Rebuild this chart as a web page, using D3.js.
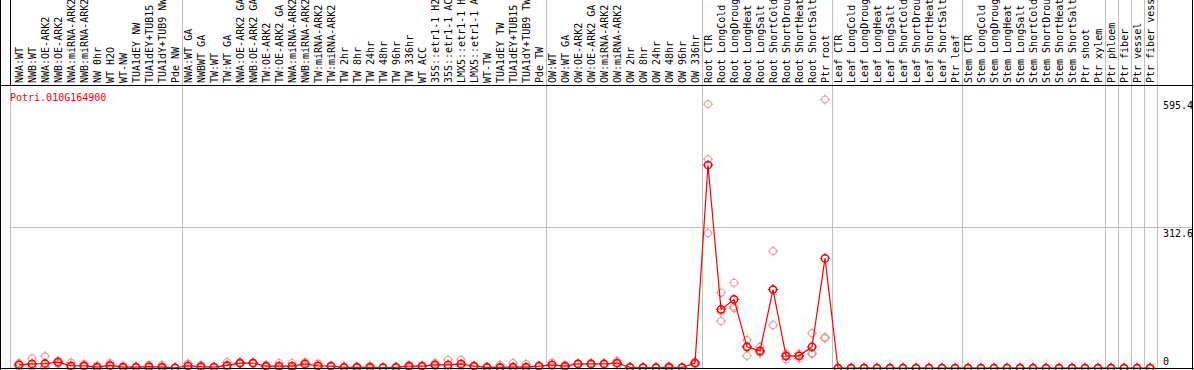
<!DOCTYPE html>
<html><head><meta charset="utf-8">
<script src="https://cdn.jsdelivr.net/npm/d3@7"></script>
<style>
html,body{margin:0;padding:0;background:#fff;}
svg{display:block;}
text{font-family:"DejaVu Sans Mono",monospace;font-size:10px;}
</style></head>
<body>
<svg id="chart" width="1194" height="370"></svg>
<script>
const geneName = "Potri.010G164900";

const categories = [
 "NWA:WT","NWB:WT","NWA:OE-ARK2","NWB:OE-ARK2","NWA:miRNA-ARK2","NWB:miRNA-ARK2","NW 0hr","WT H2O","WT-NW","TUA1dEY NW","TUA1dEY+TUB15 NW","TUA1dY+TUB9 NW","Pde NW",
 "NWA:WT GA","NWBWT GA","TW:WT","TW:WT GA","NWA:OE-ARK2 GA","NWB:OE-ARK2 GA","TW:OE-ARK2","TW:OE-ARK2 GA","NWA:miRNA-ARK2","NWB:miRNA-ARK2","TW:miRNA-ARK2","TW:miRNA-ARK2","TW 2hr","TW 8hr","TW 24hr","TW 48hr","TW 96hr","TW 336hr","WT ACC","35S::etr1-1 H2O","35S::etr1-1 ACC","LMX5::etr1-1 H2O","LMX5::etr1-1 ACC","WT-TW","TUA1dEY TW","TUA1dEY+TUB15 TW","TUA1dY+TUB9 TW","Pde TW",
 "OW:WT","OW:WT GA","OW:OE-ARK2","OW:OE-ARK2 GA","OW:miRNA-ARK2","OW:miRNA-ARK2","OW 2hr","OW 8hr","OW 24hr","OW 48hr","OW 96hr","OW 336hr",
 "Root CTR","Root LongCold","Root LongDrought","Root LongHeat","Root LongSalt","Root ShortCold","Root ShortDrought","Root ShortHeat","Root ShortSalt","Ptr root",
 "Leaf CTR","Leaf LongCold","Leaf LongDrought","Leaf LongHeat","Leaf LongSalt","Leaf ShortCold","Leaf ShortDrought","Leaf ShortHeat","Leaf ShortSalt","Ptr leaf",
 "Stem CTR","Stem LongCold","Stem LongDrought","Stem LongHeat","Stem LongSalt","Stem ShortCold","Stem ShortDrought","Stem ShortHeat","Stem ShortSalt","Ptr shoot","Ptr xylem",
 "Ptr phloem","Ptr fiber","Ptr vessel","Ptr fiber vessel"
];

// group boundaries: a separator is drawn after each of these categories (by index)
const groupEnds = [12, 40, 52, 62, 72, 83, 84, 85, 86, 87];

const meanValues = [
 7,9,10,13,5,5,2,6,2,2,3,2,0.5,
 5,3,2,6,11,11,4,4,4,9,5,4,1.5,1.5,1.5,0.7,1.5,4,4,7,7,9,4,1.5,1.5,2,2,4,
 7,4,9,9,9,11,1.5,0.7,0.7,1.5,0.7,11,
 450,130,152,47,38,174,27,27,47,243,
 0,0,0,0,0,0,0,0,0,0,
 0,0,0,0,0,0,0,0,0,0,0,
 0,0,0,0
];
const rep1 = [
 11,21,26,16,12,9,5,11,5,3,7,7,1,
 10,7,3,13,13,12,7,11,11,13,10,5,3,4,5,1,3,7,5,11,18,18,5,3,7,11,9,5,
 12,7,10,11,10,16,2,1,1,5,1,14,
 585,167,189,62,47,259,32,32,77,595.4,
 0,0,0,0,0,0,0,0,0,0,
 0,0,0,0,0,0,0,0,0,0,0,
 0,0,0,0
];
const rep2 = [
 7,4,3,14,2,4,1,5,1,2,2,0,0.5,
 4,2,2,4,11,11,3,1,1,9,4,4,1,0.5,0,1,1,3,4,7,2,6,4,1,0,0,0,4,
 6,3,9,9,9,11,1.5,1,1,0,1,11,
 463,125,136,47,36,174,25,27,33,68,
 0,0,0,0,0,0,0,0,0,0,
 0,0,0,0,0,0,0,0,0,0,0,
 0,0,0,0
];
const rep3 = [
 3,2,1,9,1,2,0,2,0,1,0,0,0,
 1,0,1,1,9,10,2,0,0,5,1,3,0.5,0,0,0,0,1,2,4,1,3,2,0,0,0,0,2,
 4,1,8,7,8,6,1,0,0,0,0,7,
 299,104,132,27,33,95,19,21,31,66,
 0,0,0,0,0,0,0,0,0,0,
 0,0,0,0,0,0,0,0,0,0,0,
 0,0,0,0
];
const axisMax = 625.2;
const tickValues = [0, 312.6, 595.4];
const tickLabels = ["0", "312.6", "595.4"];

const svg = d3.select("#chart");
const W = 1194;
const headerBottom = 85.5, plotBottom = 368.5, rightEdge = 1192.5;

const x = d3.scalePoint().domain(d3.range(categories.length)).range([19, 19 + 13 * (categories.length - 1)]);
const step = x.step();
const y = d3.scaleLinear().domain([0, axisMax]).range([368, 86]);

const bg = svg.append("g");
// left plot edge line (black in header, grey in plot)
bg.append("line").attr("x1",10.5).attr("x2",10.5).attr("y1",0).attr("y2",headerBottom).attr("stroke","#000");
bg.append("line").attr("x1",10.5).attr("x2",10.5).attr("y1",headerBottom).attr("y2",plotBottom).attr("stroke","#c0c0c0");
// group separators
bg.selectAll("line.sep").data(groupEnds).join("line").attr("class","sep")
  .attr("x1", d => Math.round(x(d) + step/2) + 0.5)
  .attr("x2", d => Math.round(x(d) + step/2) + 0.5)
  .attr("y1", 0).attr("y2", plotBottom)
  .attr("stroke", "#c0c0c0");
// grid line at middle tick
bg.append("line")
  .attr("x1", 10).attr("x2", rightEdge)
  .attr("y1", Math.round(y(tickValues[1])) + 0.5).attr("y2", Math.round(y(tickValues[1])) + 0.5)
  .attr("stroke", "#c0c0c0");

// category labels (rotated)
svg.append("g").selectAll("text").data(categories).join("text")
  .attr("transform", (d,i) => `translate(${x(i) + 3.5},83) rotate(-90)`)
  .attr("text-anchor", "start")
  .attr("fill", "#000")
  .text(d => d);

// frame
svg.append("line").attr("x1",0).attr("x2",W).attr("y1",headerBottom).attr("y2",headerBottom).attr("stroke","#000");
svg.append("line").attr("x1",0.5).attr("x2",0.5).attr("y1",0).attr("y2",370).attr("stroke","#000");
svg.append("line").attr("x1",rightEdge).attr("x2",rightEdge).attr("y1",0).attr("y2",370).attr("stroke","#000");

// title
svg.append("text").attr("x", 10).attr("y", 101).attr("fill", "#ff0000").text(geneName);

// value labels
svg.append("g").selectAll("text").data(tickValues).join("text")
  .attr("x", 1163)
  .attr("y", (d,i) => i === 0 ? y(d) - 3 : y(d) + 10)
  .attr("fill", "#000")
  .text((d,i) => tickLabels[i]);

function marker(g, color, sw) {
  const r = 3.6;
  g.append("circle").attr("r", r).attr("fill", "none").attr("stroke", color).attr("stroke-width", sw);
  g.append("path").attr("d", `M0,${-r-1.6}V${-r+0.8}M0,${r+1.6}V${r-0.8}M${-r-1.6},0H${-r+0.8}M${r+1.6},0H${r-0.8}`)
    .attr("stroke", color).attr("stroke-width", 1).attr("fill", "none");
}

const plot = svg.append("g");
const reps = [rep1, rep2, rep3];
reps.forEach(arr => {
  plot.append("g").selectAll("g").data(arr).join("g")
    .attr("transform", (d,i) => `translate(${x(i)},${y(d)})`)
    .each(function(){ marker(d3.select(this), "#ec9494", 1); });
});

const line = d3.line().x((d,i) => x(i)).y(d => y(d));
plot.append("path").datum(meanValues).attr("d", line)
  .attr("fill", "none").attr("stroke", "#ff0000").attr("stroke-width", 1.2);

plot.append("g").selectAll("g").data(meanValues).join("g")
  .attr("transform", (d,i) => `translate(${x(i)},${y(d)})`)
  .each(function(){ marker(d3.select(this), "#ff0000", 1.5); });

// bottom border on top
svg.append("line").attr("x1",0).attr("x2",W).attr("y1",plotBottom).attr("y2",plotBottom).attr("stroke","#000");
</script>
</body></html>
